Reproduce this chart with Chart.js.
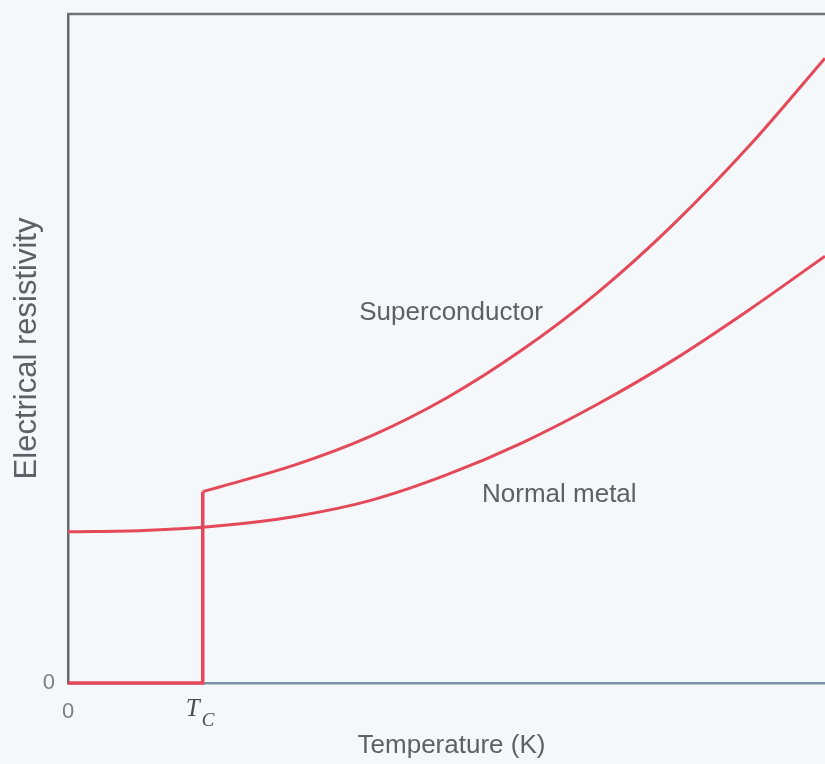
<!DOCTYPE html>
<html>
<head>
<meta charset="utf-8">
<title>Electrical resistivity vs temperature</title>
<script src="https://cdn.jsdelivr.net/npm/chart.js@4/dist/chart.umd.min.js"></script>
<style>
  html, body { margin: 0; padding: 0; background: #f4f8fa; }
  #wrap { width: 825px; height: 764px; }
</style>
</head>
<body>
<div id="wrap"><canvas id="c" width="825" height="764"></canvas></div>
<script>
// Temperature in arbitrary units (0..100), critical temperature Tc
const TC = 17.8;
const tempNormal = [0, 10, 20, 30, 40, 50, 60, 70, 80, 90, 100];
const rhoNormal = [22.6, 22.8, 23.5, 24.9, 27.3, 31.1, 35.9, 41.7, 48.3, 55.8, 63.8];

// Superconductor above Tc (normal state branch)
const tempSuperHigh = [TC, 20, 30, 40, 50, 60, 70, 80, 90, 100];
const rhoSuperHigh = [28.6, 29.3, 32.6, 36.9, 42.6, 49.8, 58.4, 68.6, 80.3, 93.4];

// Superconductor below Tc: zero resistance, then the jump at Tc
const tempSuperLow = [0, TC, TC];
const rhoSuperLow = [0, 0, 28.6];

const xTicks = [0, TC];
const yTicks = [0];

const RED = '#e4495a';
const toPts = (xs, ys) => xs.map((x, i) => ({ x: x, y: ys[i] }));

// Curve labels, placed in data coordinates
const curveLabels = [
  { text: 'Superconductor', x: 50.6, y: 55.3 },
  { text: 'Normal metal', x: 64.9, y: 28.1 }
];

const framePlugin = {
  id: 'frame',
  beforeDraw(chart) {
    const ctx = chart.ctx;
    ctx.save();
    ctx.fillStyle = '#f4f8fa';
    ctx.fillRect(0, 0, chart.width, chart.height);
    ctx.restore();
  },
  afterDraw(chart) {
    const ctx = chart.ctx;
    const a = chart.chartArea;
    const xs = chart.scales.x, ys = chart.scales.y;
    ctx.save();
    // top border of the frame
    ctx.strokeStyle = '#6f7479';
    ctx.lineWidth = 2.5;
    ctx.beginPath();
    ctx.moveTo(a.left - 1, a.top);
    ctx.lineTo(a.right, a.top);
    ctx.stroke();

    // T_C tick label
    const tx = xs.getPixelForValue(TC);
    ctx.fillStyle = '#474b50';
    ctx.textBaseline = 'alphabetic';
    ctx.textAlign = 'left';
    ctx.font = 'italic 25px "Liberation Serif", serif';
    ctx.fillText('T', tx - 17, a.bottom + 33);
    ctx.font = 'italic 19px "Liberation Serif", serif';
    ctx.fillText('C', tx - 1, a.bottom + 43);

    // curve labels
    ctx.font = '26px "Liberation Sans", Arial, sans-serif';
    ctx.fillStyle = '#5c6167';
    ctx.textAlign = 'center';
    ctx.textBaseline = 'middle';
    curveLabels.forEach(l => {
      ctx.fillText(l.text, xs.getPixelForValue(l.x), ys.getPixelForValue(l.y));
    });

    // x axis title
    ctx.font = '26px "Liberation Sans", Arial, sans-serif';
    ctx.fillText('Temperature (K)', (a.left + a.right) / 2 + 5, a.bottom + 63);
    ctx.restore();
  }
};

new Chart(document.getElementById('c'), {
  type: 'line',
  data: {
    datasets: [
      {
        label: 'Normal metal',
        data: toPts(tempNormal, rhoNormal),
        borderColor: RED, borderWidth: 3, pointRadius: 0,
        cubicInterpolationMode: 'monotone', fill: false, clip: 6
      },
      {
        label: 'Superconductor',
        data: toPts(tempSuperHigh, rhoSuperHigh),
        borderColor: RED, borderWidth: 3, pointRadius: 0,
        cubicInterpolationMode: 'monotone', fill: false, clip: 6
      },
      {
        label: 'Superconductor (T < Tc)',
        data: toPts(tempSuperLow, rhoSuperLow),
        borderColor: RED, borderWidth: 3.5, pointRadius: 0,
        tension: 0, fill: false, clip: 6,
        borderJoinStyle: 'miter'
      }
    ]
  },
  options: {
    responsive: false,
    animation: false,
    events: [],
    layout: { padding: { top: 14, right: 0, left: 0, bottom: 0 } },
    plugins: { legend: { display: false }, tooltip: { enabled: false } },
    scales: {
      x: {
        type: 'linear', min: 0, max: 100,
        afterBuildTicks: s => { s.ticks = xTicks.map(v => ({ value: v })); },
        afterFit: s => { s.height = 81; s.paddingLeft = 0; s.paddingRight = 0; },
        grid: { display: false, drawTicks: false },
        border: { display: true, color: '#7c94aa', width: 2.5 },
        ticks: {
          padding: 16,
          color: '#7d8186',
          font: { family: '"Liberation Sans", Arial, sans-serif', size: 22 },
          callback: v => (v === 0 ? '0' : '')
        },
        title: { display: false }
      },
      y: {
        type: 'linear', min: 0, max: 100,
        afterBuildTicks: s => { s.ticks = yTicks.map(v => ({ value: v })); },
        afterFit: s => { s.width = 68; s.paddingTop = 0; s.paddingBottom = 0; },
        grid: { display: false, drawTicks: false },
        border: { display: true, color: '#676b70', width: 2.5 },
        ticks: {
          padding: 13,
          color: '#7d8186',
          font: { family: '"Liberation Sans", Arial, sans-serif', size: 22 },
          callback: v => String(v)
        },
        title: {
          display: true, text: 'Electrical resistivity',
          color: '#5c6167',
          font: { family: '"Liberation Sans", Arial, sans-serif', size: 31 },
          padding: { top: 9, bottom: 0 }
        }
      }
    }
  },
  plugins: [framePlugin]
});
</script>
</body>
</html>
